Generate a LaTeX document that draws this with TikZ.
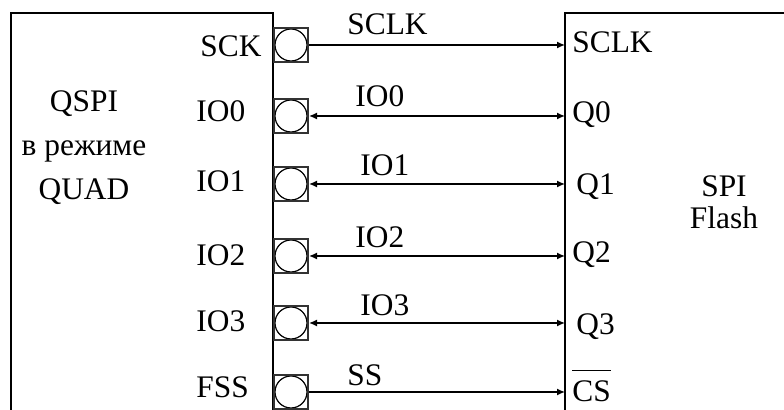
\documentclass[tikz,border=0pt]{standalone}
\usepackage{fontspec}
\setmainfont{Liberation Serif}
\usetikzlibrary{arrows.meta,positioning}
\definecolor{padgray}{HTML}{333333}

\begin{document}
\begin{tikzpicture}[x=0.5pt,y=-0.5pt,
  every node/.style={font=\fontsize{15.7}{18}\selectfont,inner sep=0pt},
  pad/.style={draw=padgray,line width=1pt,minimum size=17pt,
    path picture={\draw[black,line width=0.6pt] (path picture bounding box.center) circle (8pt);}},
  wire/.style={line width=0.7pt,-{Latex[length=4pt,width=3.5pt]}},
  biwire/.style={line width=0.7pt,{Latex[length=4pt,width=3.5pt]}-{Latex[length=4pt,width=3.5pt]}}]
  \clip (0,0) rectangle (784,410);
  % blocks
  \draw[line width=1pt] (11,440) -- (11,13) -- (273,13) -- (273,440);
  \draw[line width=1pt] (565,440) -- (565,13) -- (800,13);
  \node[align=center,font=\fontsize{15.7}{22}\selectfont] (qspi) at (84,148) {QSPI\\в режиме\\QUAD};
  \node[align=center,font=\fontsize{15.7}{16}\selectfont] (flash) at (724,202) {SPI\\Flash};
  % pads of the controller
  \node[pad] (sck) at (291,45) {};
  \node[pad] (io0) at (291,116) {};
  \node[pad] (io1) at (291,184) {};
  \node[pad] (io2) at (291,256) {};
  \node[pad] (io3) at (291,323) {};
  \node[pad] (fss) at (291,392) {};
  \node[anchor=base west] (sckname) at (200,57) {SCK};
  \node[anchor=base west] (io0name) at (196,122) {IO0};
  \node[anchor=base west] (io1name) at (196,192) {IO1};
  \node[anchor=base west] (io2name) at (196,266) {IO2};
  \node[anchor=base west] (io3name) at (196,332) {IO3};
  \node[anchor=base west] (fssname) at (196,398) {FSS};
  % inputs of the flash
  \coordinate (sclk) at (565,45);
  \coordinate (q0) at (565,116);
  \coordinate (q1) at (565,184);
  \coordinate (q2) at (565,256);
  \coordinate (q3) at (565,323);
  \coordinate (cs) at (565,392);
  \node[anchor=base west] (sclkname) at (572,53) {SCLK};
  \node[anchor=base west] (q0name) at (572,123) {Q0};
  \node[anchor=base west] (q1name) at (576,195) {Q1};
  \node[anchor=base west] (q2name) at (572,263) {Q2};
  \node[anchor=base west] (q3name) at (576,335) {Q3};
  \node[anchor=base west] (csname) at (572,402) {\rlap{\rule[15.6pt]{19.4pt}{0.6pt}}CS};
  % lines
  \draw[wire] (sck.east) -- (sclk);
  \draw[biwire] (io0.east) -- (q0);
  \draw[biwire] (io1.east) -- (q1);
  \draw[biwire] (io2.east) -- (q2);
  \draw[biwire] (io3.east) -- (q3);
  \draw[wire] (fss.east) -- (cs);
  \node[anchor=base west] (sclklbl) at (347,35) {SCLK};
  \node[anchor=base west] (io0lbl) at (355,107) {IO0};
  \node[anchor=base west] (io1lbl) at (360,176) {IO1};
  \node[anchor=base west] (io2lbl) at (355,248) {IO2};
  \node[anchor=base west] (io3lbl) at (360,316) {IO3};
  \node[anchor=base west] (sslbl) at (347,386) {SS};
\end{tikzpicture}
\end{document}
